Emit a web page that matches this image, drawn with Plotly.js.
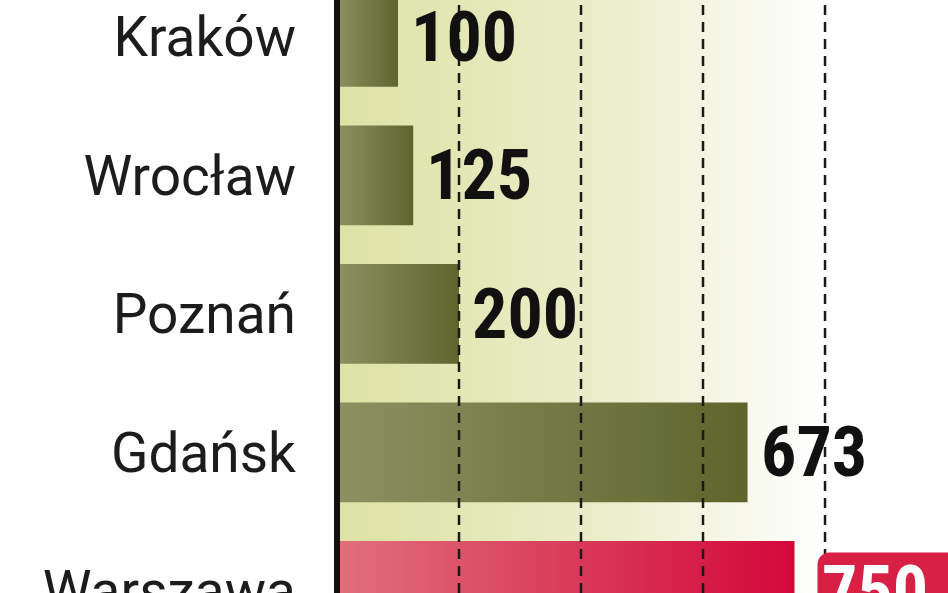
<!DOCTYPE html>
<html>
<head>
<meta charset="utf-8">
<script src="https://cdn.plot.ly/plotly-3.0.1.min.js"></script>
<style>
  html, body { margin: 0; padding: 0; background: #fff; }
  #chart { width: 948px; height: 593px; }
</style>
</head>
<body>
<div id="chart"></div>
<script>
const cities = ["Kraków", "Wrocław", "Poznań", "Gdańsk", "Warszawa"];
const values = [100, 125, 200, 673, 750];
const highlight = "Warszawa";
const gridValues = [200, 400, 600, 800];

const green = "#6f7540",
  red = "#d81f44",
  ink = "#111";
const numFont = "Liberation Sans Narrow, Roboto Condensed, DejaVu Sans Condensed, sans-serif";

const bgSvg =
  "<svg xmlns='http://www.w3.org/2000/svg' width='100' height='10' preserveAspectRatio='none'>" +
  "<defs><linearGradient id='g'><stop offset='0' stop-color='#dde2a4'/>" +
  "<stop offset='0.45' stop-color='#ebeecb'/><stop offset='0.8' stop-color='#ffffff'/></linearGradient></defs>" +
  "<rect width='100' height='10' fill='url(#g)'/></svg>";

const trace = {
  type: "bar",
  orientation: "h",
  y: cities,
  x: values,
  width: 0.72,
  marker: { color: cities.map((c) => (c === highlight ? red : green)), line: { width: 0 } },
  hoverinfo: "none",
};

const labels = cities.map((c, i) => {
  const hot = c === highlight;
  return {
    x: values[i],
    y: c,
    xref: "x",
    yref: "y",
    text: hot ? "<b>" + values[i] + "&nbsp;&nbsp;</b>" : "<b>" + values[i] + "</b>",
    showarrow: false,
    xanchor: "left",
    xshift: hot ? 22 : 12,
    font: { family: numFont, size: 70, color: hot ? "#fff" : ink },
    bgcolor: hot ? red : "rgba(0,0,0,0)",
    borderpad: hot ? 4 : 0,
    height: hot ? 68 : undefined,
  };
});

const grid = gridValues.map((v) => ({
  type: "line",
  xref: "x",
  yref: "paper",
  x0: v,
  x1: v,
  y0: 0,
  y1: 1,
  layer: "above",
  line: { color: "#1a1a1a", width: 2.5, dash: "10px,7px" },
}));

const axisLine = {
  type: "line",
  xref: "paper",
  yref: "paper",
  x0: 0,
  x1: 0,
  y0: 0,
  y1: 1,
  layer: "above",
  line: { color: ink, width: 6 },
};

const layout = {
  width: 948,
  height: 593,
  margin: { l: 337, r: 0, t: 0, b: 0 },
  paper_bgcolor: "#fff",
  plot_bgcolor: "rgba(0,0,0,0)",
  showlegend: false,
  xaxis: { range: [0, 1001.6], visible: false, fixedrange: true },
  yaxis: {
    range: [4.015, -0.267],
    showgrid: false,
    zeroline: false,
    showline: false,
    ticks: "",
    ticklabelstandoff: 40,
    tickfont: { family: "Roboto, sans-serif", size: 55, color: "#1c1c1c" },
    fixedrange: true,
  },
  images: [
    {
      source: "data:image/svg+xml;utf8," + encodeURIComponent(bgSvg),
      xref: "paper",
      yref: "paper",
      x: 0,
      y: 1,
      sizex: 1,
      sizey: 1,
      sizing: "stretch",
      layer: "below",
    },
  ],
  shapes: [...grid, axisLine],
  annotations: labels,
};

function addGradients(gd) {
  const svg = gd.querySelector(".main-svg");
  const ns = "http://www.w3.org/2000/svg";
  let defs = svg.querySelector("defs");
  if (!defs) {
    defs = document.createElementNS(ns, "defs");
    svg.insertBefore(defs, svg.firstChild);
  }
  const mk = (id, from, to) => {
    const lg = document.createElementNS(ns, "linearGradient");
    lg.setAttribute("id", id);
    [[0, from], [1, to]].forEach(([o, c]) => {
      const s = document.createElementNS(ns, "stop");
      s.setAttribute("offset", o);
      s.setAttribute("stop-color", c);
      lg.appendChild(s);
    });
    defs.appendChild(lg);
  };
  mk("barGreen", "#8c9162", "#5d652c");
  mk("barRed", "#e0707a", "#d3083a");
  gd.querySelectorAll(".trace.bars .point path").forEach((p, i) => {
    p.style.fill = cities[i] === highlight ? "url(#barRed)" : "url(#barGreen)";
  });
  // rounded corners on the highlighted value box
  gd.querySelectorAll(".annotation .bg").forEach((r) => {
    if (r.style.fill && r.style.fill.indexOf("216") >= 0) {
      r.setAttribute("rx", 12);
      r.setAttribute("ry", 12);
    }
  });
}

Plotly.newPlot("chart", [trace], layout, { displayModeBar: false, staticPlot: true }).then(addGradients);
</script>
</body>
</html>
